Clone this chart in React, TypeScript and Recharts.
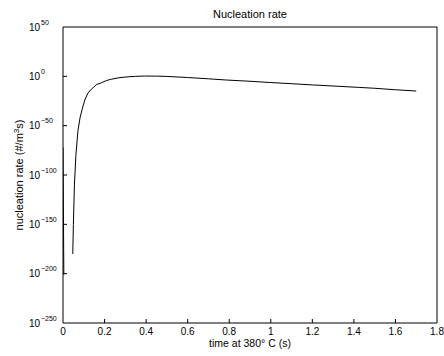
import React from 'react';
import { LineChart, Line, XAxis, YAxis, ReferenceArea } from 'recharts';

// spike at the very start (time s, log10 of rate)
const spikeTimes = [0, 0.004];
const spikeExps = [-72, -201];
// gap where the rate is zero (not drawn on a log axis)
const gapTime = 0.02;
// main curve (time s, log10 of nucleation rate #/m^3s)
const mainTimes = [
  0.047, 0.05, 0.055, 0.062, 0.072, 0.082, 0.095, 0.105, 0.12, 0.137, 0.16, 0.185,
  0.21, 0.233, 0.27, 0.313, 0.35, 0.393, 0.45, 0.5, 0.6, 0.7, 0.783, 0.9, 1.0,
  1.103, 1.2, 1.3, 1.423, 1.5, 1.6, 1.7,
];
const mainExps = [
  -180, -150, -110, -80, -55, -42, -31, -24, -17, -13, -8.5, -6.5,
  -4.2, -2.9, -1.4, -0.5, 0, 0.3, 0.2, -0.1, -1.2, -2.5, -3.7, -5, -6.3,
  -7.5, -8.7, -9.8, -11.2, -12.1, -13.6, -14.9,
];
const xTicks = [0, 0.2, 0.4, 0.6, 0.8, 1, 1.2, 1.4, 1.6, 1.8];
const yTicks = [-250, -200, -150, -100, -50, 0, 50];
const titleText = 'Nucleation rate';
const xLabel = 'time at 380\u00b0 C (s)';
const yLabelMain = 'nucleation rate (#/m';
const yLabelSup = '3';
const yLabelEnd = 's)';

const data: { t: number; v: number | null }[] = [
  ...spikeTimes.map((t, i) => ({ t, v: spikeExps[i] })),
  { t: gapTime, v: null },
  ...mainTimes.map((t, i) => ({ t, v: mainExps[i] })),
];

const FONT = '"Liberation Sans", Arial, Helvetica, sans-serif';
const TOP = 27;
const BOTTOM = 323;
const LEFT = 63;
const RIGHT = 437;
const TL = 4;

const YTickLeft = (props: any) => {
  const { payload } = props;
  const y = payload.coordinate;
  const exp = payload.value as number;
  const expStr = exp < 0 ? '\u2212' + Math.abs(exp) : String(exp);
  const showLine = exp !== 50 && exp !== -250;
  return (
    <g>
      {showLine && <line x1={LEFT} x2={LEFT + TL} y1={y} y2={y} stroke="#000" strokeWidth={1} />}
      <text x={40} y={y + 3.5} textAnchor="end" fontSize={10} fill="#000" fontFamily={FONT}>
        10
      </text>
      <text x={41} y={y - 2.5} textAnchor="start" fontSize={7} fill="#000" fontFamily={FONT}>
        {expStr}
      </text>
    </g>
  );
};

const YTickRight = (props: any) => {
  const { payload } = props;
  const y = payload.coordinate;
  const exp = payload.value as number;
  if (exp === 50 || exp === -250) return <g />;
  return <line x1={RIGHT - TL} x2={RIGHT} y1={y} y2={y} stroke="#000" strokeWidth={1} />;
};

const XTickBottom = (props: any) => {
  const { payload } = props;
  const x = payload.coordinate;
  const v = payload.value as number;
  const showLine = v !== 0 && v !== 1.8;
  return (
    <g>
      {showLine && <line x1={x} x2={x} y1={BOTTOM - TL} y2={BOTTOM} stroke="#000" strokeWidth={1} />}
      <text x={x} y={BOTTOM + 11.5} textAnchor="middle" fontSize={10} fill="#000" fontFamily={FONT}>
        {String(Math.round(v * 10) / 10)}
      </text>
    </g>
  );
};

const XTickTop = (props: any) => {
  const { payload } = props;
  const x = payload.coordinate;
  const v = payload.value as number;
  if (v === 0 || v === 1.8) return <g />;
  return <line x1={x} x2={x} y1={TOP} y2={TOP + TL} stroke="#000" strokeWidth={1} />;
};

export default function App() {
  return (
    <div style={{ position: 'absolute', left: 0, top: 0, width: 444, height: 356, background: '#fff' }}>
      <LineChart
        width={444}
        height={356}
        data={data}
        margin={{ top: TOP, right: 444 - RIGHT, bottom: 0, left: 0 }}
        style={{ fontFamily: FONT }}
      >
        <XAxis
          xAxisId="b"
          dataKey="t"
          type="number"
          domain={[0, 1.8]}
          ticks={xTicks}
          allowDataOverflow
          height={356 - BOTTOM}
          axisLine={false}
          tickLine={false}
          tick={<XTickBottom />}
          interval={0}
        />
        <XAxis
          xAxisId="t"
          orientation="top"
          dataKey="t"
          type="number"
          domain={[0, 1.8]}
          ticks={xTicks}
          allowDataOverflow
          height={0}
          axisLine={false}
          tickLine={false}
          tick={<XTickTop />}
          interval={0}
        />
        <YAxis
          yAxisId="l"
          type="number"
          domain={[-250, 50]}
          ticks={yTicks}
          allowDataOverflow
          width={LEFT}
          axisLine={false}
          tickLine={false}
          tick={<YTickLeft />}
          interval={0}
        />
        <YAxis
          yAxisId="r"
          orientation="right"
          type="number"
          domain={[-250, 50]}
          ticks={yTicks}
          allowDataOverflow
          width={0}
          axisLine={false}
          tickLine={false}
          tick={<YTickRight />}
          interval={0}
        />
        <ReferenceArea
          xAxisId="b"
          yAxisId="l"
          x1={0}
          x2={1.8}
          y1={-250}
          y2={50}
          fill="none"
          fillOpacity={0}
          stroke="#000"
          strokeWidth={1}
          strokeOpacity={1}
          ifOverflow="visible"
        />
        <Line
          xAxisId="b"
          yAxisId="l"
          dataKey="v"
          type="linear"
          stroke="#000"
          strokeWidth={1}
          dot={false}
          connectNulls={false}
          isAnimationActive={false}
        />
        <text x={250} y={18} textAnchor="middle" fontSize={11} fill="#000" fontFamily={FONT}>
          {titleText}
        </text>
        <text x={250} y={347} textAnchor="middle" fontSize={10.5} fill="#000" fontFamily={FONT}>
          {xLabel}
        </text>
        <text
          x={23}
          y={175}
          transform="rotate(-90, 23, 175)"
          textAnchor="middle"
          fontSize={11}
          fill="#000"
          fontFamily={FONT}
        >
          {yLabelMain}
          <tspan dy={-4} fontSize={8}>{yLabelSup}</tspan>
          <tspan dy={4}>{yLabelEnd}</tspan>
        </text>
      </LineChart>
    </div>
  );
}
